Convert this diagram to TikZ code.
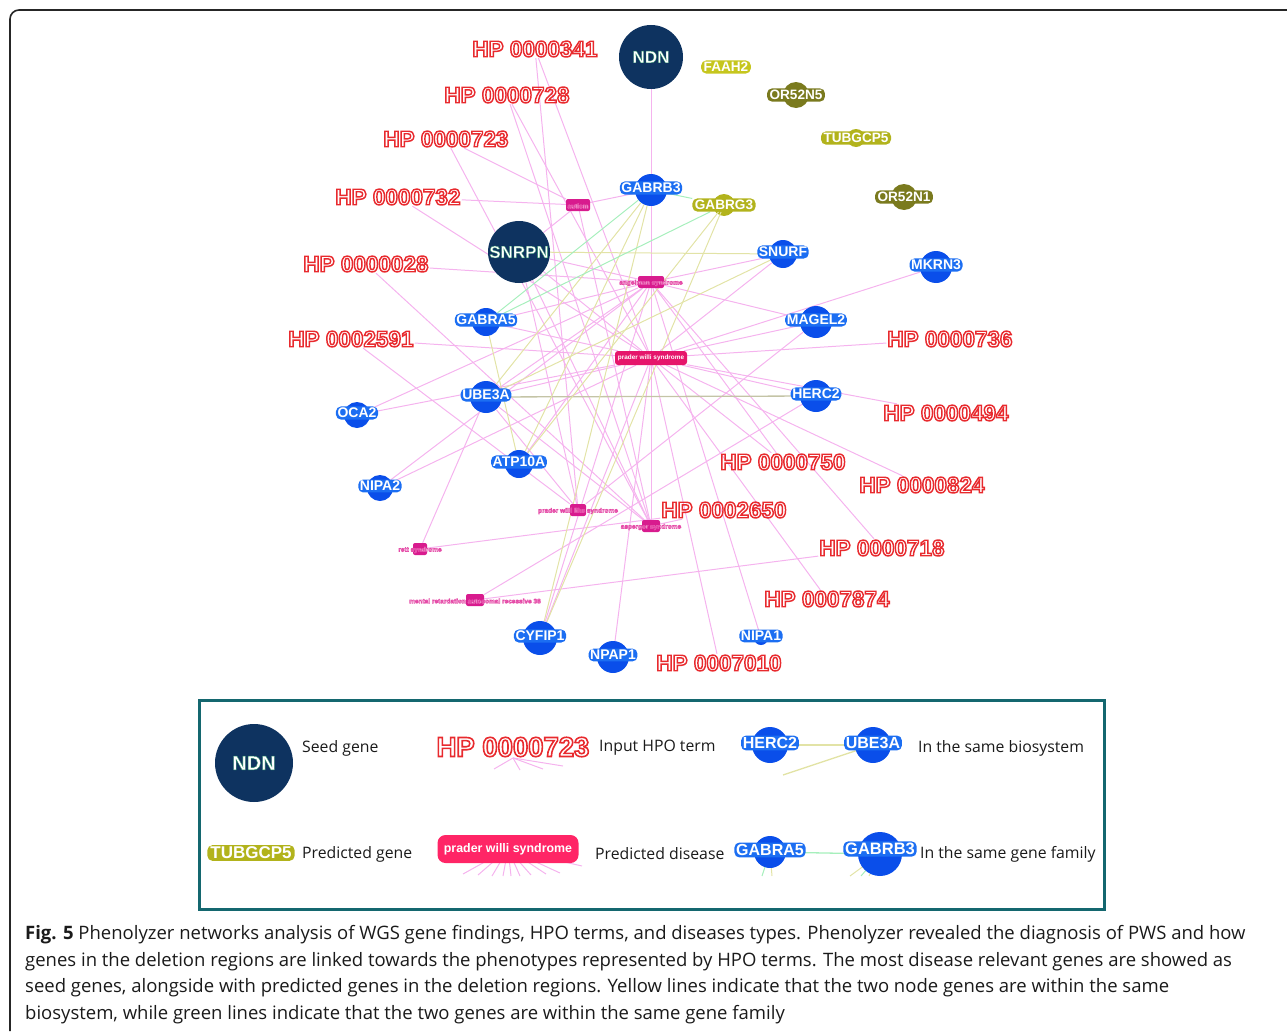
\documentclass[tikz,border=0pt]{standalone}
\usepackage{fontspec}
\setmainfont{Open Sans}
\newfontfamily\labf{Liberation Sans}
\usetikzlibrary{backgrounds}

\definecolor{hpred}{HTML}{E82A2E}
\definecolor{gblue}{HTML}{0A4EEA}
\definecolor{gbluo}{HTML}{1C6EF2}
\definecolor{navy}{HTML}{0E3360}
\definecolor{olivd}{HTML}{7A7A1E}
\definecolor{olivb}{HTML}{B2B31C}
\definecolor{olivf}{HTML}{C6C61E}
\definecolor{dmag}{HTML}{D81B8E}
\definecolor{pwsc}{HTML}{E6156B}
\definecolor{lpwsc}{HTML}{FF2566}
\definecolor{pkl}{HTML}{F5B3EE}
\definecolor{yel}{HTML}{E2E3A6}
\definecolor{grn}{HTML}{A6EFBC}
\definecolor{bsys}{HTML}{C4C4A6}
\definecolor{tealc}{HTML}{14676F}
\definecolor{capc}{HTML}{1A1A1A}

% stroke-only text
\newcommand\strk[3]{{\color{#1}\special{pdf:literal direct 1 Tr #2 w}#3\special{pdf:literal direct 0 Tr}}}
% filled text with coloured stroke (#2 = r g b of stroke)
\newcommand\fst[4]{{\color{#1}\special{pdf:literal direct 2 Tr #3 w #2 RG}#4\special{pdf:literal direct 0 Tr}}}

\tikzset{
  pk/.style={draw=pkl,line width=1pt},
  yl/.style={draw=yel,line width=1pt},
  gr/.style={draw=grn,line width=1pt},
  hpo/.style={inner sep=1pt,font=\labf\bfseries\fontsize{22.5}{22.5}\selectfont},
  gene/.style={circle,fill=gblue,minimum size=#1,inner sep=0pt},
  gene/.default=30,
  glab/.style={fill=gbluo,rounded corners=5pt,inner xsep=1.6pt,inner ysep=1.6pt,text=white,
    font=\labf\bfseries\fontsize{14}{14}\selectfont},
  seed/.style={circle,fill=navy,minimum size=#1,inner sep=0pt},
  seed/.default=64,
  slab/.style={inner sep=0pt,font=\labf\bfseries\fontsize{17}{17}\selectfont},
  pred/.style={rounded corners=5pt,fill=#1,text=white,inner xsep=2.5pt,inner ysep=1.8pt,
    font=\labf\bfseries\fontsize{13.6}{13.6}\selectfont},
  dis/.style={rounded corners=2pt,fill=dmag,minimum width=#1,minimum height=12,inner sep=0pt},
  dlab/.style={inner sep=0pt,font=\labf\bfseries\fontsize{6.5}{6.5}\selectfont},
  pwsbox/.style={rounded corners=3pt,fill=pwsc,text=white,minimum width=72,minimum height=14,inner sep=0pt,
    font=\labf\bfseries\fontsize{6.4}{6.4}\selectfont},
  captx/.style={anchor=west,inner sep=0pt,text=capc,font=\fontsize{18.5}{20}\selectfont},
  lgtx/.style={anchor=west,inner sep=0pt,text=capc,font=\fontsize{15.8}{18}\selectfont},
  lglab/.style={glab,inner xsep=1.8pt,inner ysep=1.8pt,font=\labf\bfseries\fontsize{16}{16}\selectfont},
}

\newcommand\gn[4][30]{\node[gene=#1,label={[glab,yshift=2pt]center:#4}] (#2) at (#3) {};}
\newcommand\hp[3]{\node[hpo] (#1) at (#2) {\strk{hpred}{1.45}{HP #3}};}
\newcommand\ds[4]{\node[dis=#3,label={[dlab,yshift=-1pt]center:\fst{white}{0.90 0.30 0.66}{0.45}{#4}}] (#1) at (#2) {};}

\begin{document}
\begin{tikzpicture}[x=1pt,y=-1pt]
\useasboundingbox (0,0) rectangle (1287,1033);

% outer frame
\draw[line width=1.6pt,draw=black!85,rounded corners=9pt] (10,1031) -- (10,10) -- (1287,10);

% seed genes
\node[seed,label={[slab]center:\fst{white}{0.16 0.58 0.40}{0.3}{NDN}}] (ndn) at (651,57) {};
\node[seed=62,label={[slab]center:\fst{white}{0.16 0.58 0.40}{0.3}{SNRPN}}] (snrpn) at (519,252) {};

% known genes
\gn[32]{gabrb3}{651,190}{GABRB3}
\gn[28]{snurf}{783,254}{SNURF}
\gn[32]{mkrn3}{936,267}{MKRN3}
\gn[32]{magel2}{816,322}{MAGEL2}
\gn[28]{gabra5}{486,322}{GABRA5}
\gn[32]{ube3a}{486,397}{UBE3A}
\gn[32]{herc2}{816,396}{HERC2}
\gn[26]{oca2}{357,415}{OCA2}
\gn[28]{atp10a}{519,464}{ATP10A}
\gn[26]{nipa2}{380,488}{NIPA2}
\gn[34]{cyfip1}{540,638}{CYFIP1}
\gn[32]{npap1}{613,657}{NPAP1}
\gn[14]{nipa1}{761,638}{NIPA1}

% predicted genes
\node[pred=olivf] (faah2) at (726,67) {FAAH2};
\node[pred=olivd] (or52n5) at (796,95) {OR52N5};
\node[pred=olivb] (tubgcp5) at (856,138) {TUBGCP5};
\node[pred=olivb] (gabrg3) at (724,205) {GABRG3};
\node[pred=olivd] (or52n1) at (904,197) {OR52N1};

% HPO terms
\hp{h341}{535,49}{0000341}
\hp{h728}{507,95}{0000728}
\hp{h723}{446,139}{0000723}
\hp{h732}{398,197}{0000732}
\hp{h028}{366,264}{0000028}
\hp{h2591}{351,339}{0002591}
\hp{h736}{950,339}{0000736}
\hp{h494}{946,413}{0000494}
\hp{h750}{783,462}{0000750}
\hp{h824}{922,485}{0000824}
\hp{h2650}{724,510}{0002650}
\hp{h718}{882,548}{0000718}
\hp{h7874}{827,599}{0007874}
\hp{h7010}{719,663}{0007010}

% diseases
\ds{autism}{578,205}{24}{autism}
\ds{angel}{651,282}{26}{angelman syndrome}
\node[pwsbox] (pws) at (651,358) {prader willi syndrome};
\ds{pwlike}{578,510}{16}{prader willi like syndrome}
\ds{asperger}{651,526}{18}{asperger syndrome}
\ds{rett}{420,549}{14}{rett syndrome}
\ds{mr38}{475,600}{18}{mental retardation autosomal recessive 38}

% legend
\draw[draw=tealc,line width=3pt] (199,700) rectangle (1104,909);
\node[seed=78,label={[inner sep=0pt,font=\labf\bfseries\fontsize{20}{20}\selectfont]center:\fst{white}{0.16 0.58 0.40}{0.35}{NDN}}] (lndn) at (254,763) {};
\node[lgtx] (tseed) at (302,748) {Seed gene};
\node[hpo,font=\labf\bfseries\fontsize{27.5}{27.5}\selectfont] (lhp) at (513,747) {\strk{hpred}{1.6}{HP 0000723}};
\node[lgtx] (thpo) at (599,748) {Input HPO term};
\node[gene=36,label={[lglab,yshift=2pt]center:HERC2}] (lherc2) at (770,745) {};
\node[gene=36,label={[lglab,yshift=2pt]center:UBE3A}] (lube3a) at (873,745) {};
\node[lgtx] (tbio) at (918,748) {In the same biosystem};
\node[pred=olivb,inner xsep=3pt,font=\labf\bfseries\fontsize{17}{17}\selectfont] (ltub) at (251,853) {TUBGCP5};
\node[lgtx] (tpg) at (302,854) {Predicted gene};
\node[rounded corners=8pt,fill=lpwsc,text=white,minimum width=141,minimum height=28,inner sep=0pt,
  font=\labf\bfseries\fontsize{12.4}{12.4}\selectfont] (lpws) at (508,849) {prader willi syndrome};
\node[lgtx] (tpd) at (595,854) {Predicted disease};
\node[gene=32,label={[lglab,yshift=2pt]center:GABRA5}] (lgabra5) at (770,852) {};
\node[gene=44,label={[lglab,yshift=5pt,font=\labf\bfseries\fontsize{16.5}{16.5}\selectfont]center:GABRB3}] (lgabrb3) at (880,854) {};
\node[lgtx] (tgf) at (920,854) {In the same gene family};

% legend stub end points
\coordinate (e1) at (494,769);
\coordinate (e2) at (520,770);
\coordinate (e3) at (543,769);
\coordinate (e4) at (563,766);
\coordinate (f1) at (463,874);
\coordinate (f2) at (478,875);
\coordinate (f3) at (492,876);
\coordinate (f4) at (503,876);
\coordinate (f5) at (511,876);
\coordinate (f6) at (520,876);
\coordinate (f7) at (531,875);
\coordinate (f8) at (546,874);
\coordinate (f9) at (560,873);
\coordinate (f10) at (582,866);
\coordinate (g1) at (783,775);
\coordinate (k1) at (762,876);
\coordinate (k2) at (772,876);
\coordinate (k3) at (850,876);
\coordinate (k4) at (861,876);
\coordinate (k5) at (869,876);

% caption
\node[captx] (c1) at (25,935) {\textbf{Fig. 5} Phenolyzer networks analysis of WGS gene findings, HPO terms, and diseases types. Phenolyzer revealed the diagnosis of PWS and how};
\node[captx] (c2) at (25,962) {genes in the deletion regions are linked towards the phenotypes represented by HPO terms. The most disease relevant genes are showed as};
\node[captx] (c3) at (25,988) {seed genes, alongside with predicted genes in the deletion regions. Yellow lines indicate that the two node genes are within the same};
\node[captx] (c4) at (25,1015) {biosystem, while green lines indicate that the two genes are within the same gene family};

\begin{pgfonlayer}{background}
\fill[olivd] (or52n5) circle[radius=13pt];
\fill[olivd] (or52n1) circle[radius=13pt];
\fill[olivb] (gabrg3) circle[radius=11pt];
\fill[olivb] (tubgcp5) circle[radius=9pt];
% HPO - disease
\foreach \a/\b in {h341/pwlike,h341/pws,h728/pws,h728/asperger,h723/autism,h723/asperger,
  h732/autism,h732/pws,h028/angel,h028/asperger,h2591/pws,h2591/pwlike,h736/pws,h494/pws,
  h750/pws,h750/angel,h824/pws,h2650/asperger,h2650/rett,h718/mr38,h718/angel,h7874/pws,h7010/pws}
  \draw[pk] (\a) -- (\b);
% disease - gene
\foreach \a/\b in {autism/gabrb3,autism/snrpn,autism/asperger,
  angel/gabrb3,angel/snurf,angel/snrpn,angel/gabra5,angel/ube3a,angel/magel2,angel/oca2,
  angel/nipa2,angel/atp10a,angel/nipa1,angel/cyfip1,
  pws/ndn,pws/snrpn,pws/snurf,pws/magel2,pws/mkrn3,pws/ube3a,pws/gabra5,pws/oca2,pws/nipa2,
  pws/npap1,pws/cyfip1,pws/herc2,
  pwlike/ube3a,pwlike/snrpn,pwlike/magel2,asperger/snrpn,asperger/gabrb3,asperger/ube3a,
  rett/ube3a,mr38/herc2}
  \draw[pk] (\a) -- (\b);
% gene - gene
\draw[draw=bsys,line width=1.3pt] (ube3a) -- (herc2);
\foreach \a/\b in {snrpn/snurf,gabra5/atp10a,gabrb3/atp10a,gabrb3/cyfip1,gabrb3/ube3a,
  gabrg3/atp10a,snurf/ube3a,gabrg3/cyfip1}
  \draw[yl] (\a) -- (\b);
\foreach \a/\b in {gabrb3/gabra5,gabrg3/gabra5,gabrb3/gabrg3}
  \draw[gr] (\a) -- (\b);
% legend stubs
\foreach \e in {e1,e2,e3,e4} \draw[pk] (lhp.south) -- (\e);
\foreach \e in {f1,f2,f3,f4,f5,f6,f7,f8,f9,f10} \draw[pk] (lpws.center) -- (\e);
\draw[yl,line width=1.3pt] (lherc2) -- (lube3a);
\draw[yl,line width=1.3pt] (lube3a) -- (g1);
\draw[gr,line width=1.3pt] (lgabra5) -- (lgabrb3);
\draw[gr] (lgabra5.center) -- (k1);
\draw[yl] (lgabra5.center) -- (k2);
\draw[yl] (lgabrb3.center) -- (k3);
\draw[gr] (lgabrb3.center) -- (k4);
\draw[yl] (lgabrb3.center) -- (k5);
\end{pgfonlayer}
\end{tikzpicture}
\end{document}
